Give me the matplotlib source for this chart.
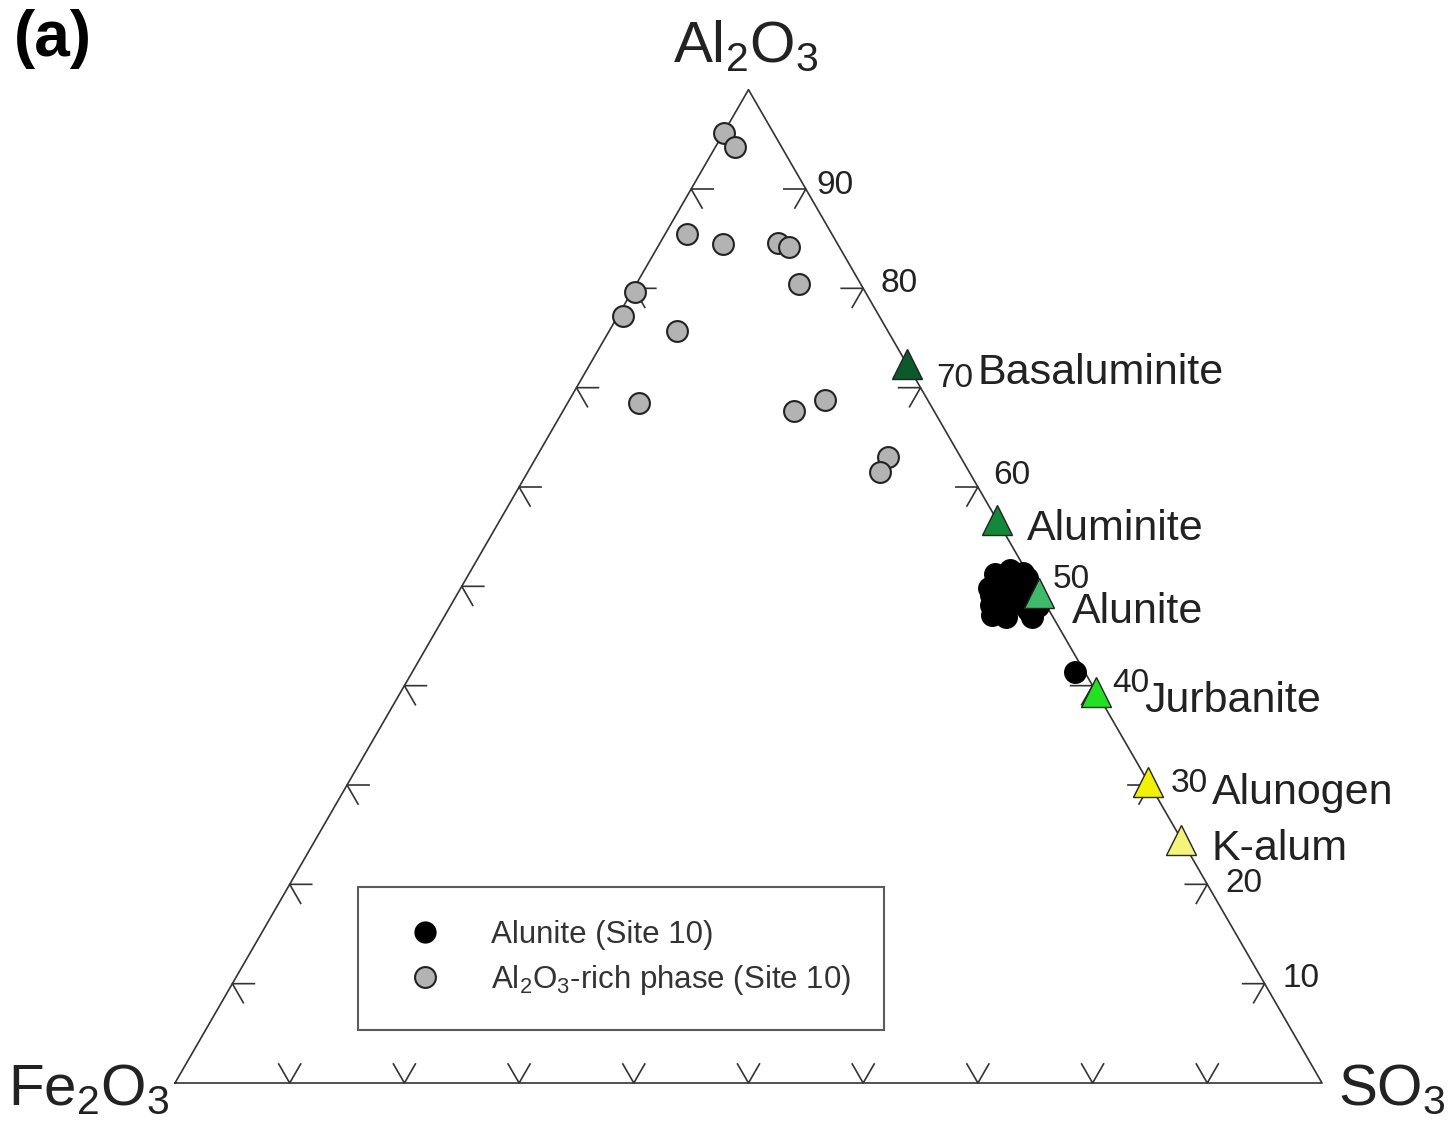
import numpy as np
import matplotlib.pyplot as plt
from matplotlib.lines import Line2D

plt.rcParams['font.family'] = ['Liberation Sans', 'DejaVu Sans']
plt.rcParams['mathtext.fontset'] = 'custom'
plt.rcParams['mathtext.rm'] = 'Liberation Sans'
plt.rcParams['mathtext.it'] = 'Liberation Sans:italic'
plt.rcParams['mathtext.bf'] = 'Liberation Sans:bold'

# Al2O3-rich phase (Site 10), wt%
rich_al2o3 = [95.6, 94.2, 85.5, 84.5, 84.6, 84.2, 80.4, 79.6, 77.2, 75.7, 68.5, 67.7, 68.8, 63.0, 61.5]
rich_so3 = [0.1, 1.7, 1.9, 5.5, 10.3, 11.4, 14.2, 0.3, 0.5, 5.9, 6.2, 20.1, 22.3, 30.7, 30.7]
rich_fe2o3 = [4.3, 4.1, 12.6, 10.0, 5.1, 4.4, 5.4, 20.1, 22.3, 18.4, 25.3, 12.2, 8.9, 6.3, 7.8]

# Alunite (Site 10)
alu_al2o3 = [51.2, 51.6, 51.3, 49.8, 50.0, 49.8, 49.6, 48.1, 48.5, 48.3, 48.0, 47.1, 46.9, 46.9, 47.6, 49.1,
             50.6, 50.8, 47.4, 41.4]
alu_so3 = [45.9, 47.0, 48.3, 46.1, 47.3, 48.6, 49.9, 47.1, 47.8, 49.2, 51.2, 47.7, 49.0, 51.3, 50.6, 46.6,
           46.4, 48.9, 48.3, 57.8]
alu_fe2o3 = [2.9, 1.4, 0.4, 4.1, 2.7, 1.6, 0.5, 4.8, 3.7, 2.5, 0.8, 5.2, 4.1, 1.8, 1.8, 4.3,
             3.0, 0.3, 4.3, 0.8]

# reference minerals
mineral_names = ['Basaluminite', 'Aluminite', 'Alunite', 'Jurbanite', 'Alunogen', 'K-alum']
mineral_al2o3 = [72.4, 56.7, 49.3, 39.4, 30.3, 24.5]
mineral_so3 = [27.6, 43.3, 50.7, 60.6, 69.7, 75.5]
mineral_fe2o3 = [0, 0, 0, 0, 0, 0]

tick_values = [10, 20, 30, 40, 50, 60, 70, 80, 90]

mineral_colors = ['#0c5a2c', '#14883a', '#3dbb6b', '#22e022', '#f2f200', '#f4f47a']
label_offsets = [(71, -9), (30, -9), (33, -19), (48, -9), (64, -11), (30, -9)]
tick_label_offsets = [(18, 5), (18, 1), (21, 2), (20, 2), (17, 7), (15, 12), (16, 9), (17, 5), (11, 4)]

H = np.sqrt(3) / 2
PX = 1.0 / 1147  # one pixel in axis units (triangle side = 1147 px)
EDGE = '#333333'
TXT = '#222222'


def tern(al, so3, fe):
    al = np.asarray(al, float)
    so3 = np.asarray(so3, float)
    fe = np.asarray(fe, float)
    tot = al + so3 + fe
    a = al / tot
    s = so3 / tot
    return s + a / 2, a * H


fig = plt.figure(figsize=(14.54, 11.32), dpi=100)
ax = fig.add_axes([0, 0, 1, 1])
ax.set_xlim(-175 * PX, 1279 * PX)
ax.set_ylim(-49 * PX, 1083 * PX)
ax.axis('off')

# triangle frame
ax.plot([0, 1, 0.5, 0], [0, 0, H, 0], color=EDGE, lw=1.2, zorder=2)

# ticks: two short strokes at each tick along the grid directions
L = 22 * PX
c, s = 0.5, H
for v, off in zip(tick_values, tick_label_offsets):
    # right edge (Al2O3 scale)
    x, y = tern(v, 100 - v, 0)
    ax.plot([x - L, x, x - c * L], [y, y, y - s * L], color=EDGE, lw=1.2, zorder=2)
    ax.annotate(str(v), (x, y), xytext=off, textcoords='offset pixels',
                ha='left', va='center', fontsize=24, color=TXT)
    # left edge
    x, y = tern(v, 0, 100 - v)
    ax.plot([x + L, x, x + c * L], [y, y, y - s * L], color=EDGE, lw=1.2, zorder=2)
    # bottom edge
    x, y = tern(0, v, 100 - v)
    ax.plot([x - c * L, x, x + c * L], [y + s * L, y, y + s * L], color=EDGE, lw=1.2, zorder=2)

# data
x, y = tern(rich_al2o3, rich_so3, rich_fe2o3)
ax.plot(x, y, 'o', ms=15, mfc='#b3b3b3', mec='#222222', mew=1.5, zorder=3)
x, y = tern(alu_al2o3, alu_so3, alu_fe2o3)
ax.plot(x, y, 'o', ms=15.5, mfc='black', mec='black', mew=1.0, zorder=4)

x, y = tern(mineral_al2o3, mineral_so3, mineral_fe2o3)
for xi, yi, name, col, off in zip(x, y, mineral_names, mineral_colors, label_offsets):
    ax.plot(xi, yi, '^', ms=22, mfc=col, mec='#222222', mew=1.0, zorder=5)
    ax.annotate(name, (xi, yi), xytext=off, textcoords='offset pixels',
                ha='left', va='center', fontsize=31, color=TXT)

# corner labels
ax.annotate(r'Al$_2$O$_3$', (0.5, H), xytext=(-3, 28), textcoords='offset pixels',
            ha='center', va='baseline', fontsize=42, color=TXT)
ax.annotate(r'Fe$_2$O$_3$', (0, 0), xytext=(-5, -22), textcoords='offset pixels',
            ha='right', va='baseline', fontsize=42, color=TXT)
ax.annotate(r'SO$_3$', (1, 0), xytext=(16, -22), textcoords='offset pixels',
            ha='left', va='baseline', fontsize=42, color=TXT)

fig.text(14 / 1454, 1 - 9 / 1132, '(a)', ha='left', va='top', fontsize=46,
         fontweight='bold', color='black')

handles = [
    Line2D([], [], ls='none', marker='o', ms=15, mfc='black', mec='black'),
    Line2D([], [], ls='none', marker='o', ms=15, mfc='#b3b3b3', mec='#222222', mew=1.5),
]
labels = ['Alunite (Site 10)', r'Al$_2$O$_3$-rich phase (Site 10)']
leg = ax.legend(handles, labels, loc='upper left',
                bbox_to_anchor=(358 / 1454, 1 - 887 / 1132), bbox_transform=fig.transFigure,
                fontsize=22.5, frameon=True, fancybox=False, borderpad=1.05,
                handlelength=2.2, handletextpad=1.0, labelspacing=0.43, numpoints=1,
                borderaxespad=0)
leg.get_frame().set_edgecolor(EDGE)
leg.get_frame().set_linewidth(1.5)
for t in leg.get_texts():
    t.set_color('#333333')

fig.savefig('out.png', dpi=100)
